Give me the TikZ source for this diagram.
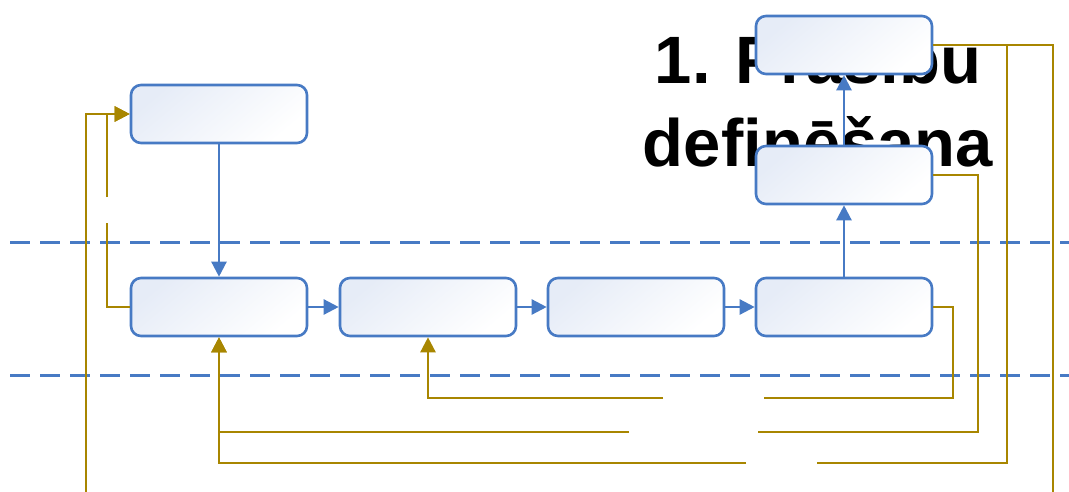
\documentclass[tikz,border=0pt]{standalone}
\usepackage{fontspec}
\setmainfont{Liberation Sans}
\usetikzlibrary{arrows.meta}
\definecolor{bblue}{RGB}{71,122,196}
\definecolor{ggold}{RGB}{168,134,0}
\definecolor{boxtop}{RGB}{230,236,247}
\tikzset{
  stagebox/.style={draw=bblue, line width=2.6pt, rounded corners=10pt,
    minimum width=176pt, minimum height=58pt, inner sep=0pt,
    top color=boxtop, bottom color=white, shading angle=40},
  barrow/.style={draw=bblue, line width=2.4pt, -{Triangle[length=15pt,width=15pt]}},
  gline/.style={draw=ggold, line width=2.5pt},
  garrow/.style={draw=ggold, line width=2.5pt, -{Triangle[length=15pt,width=15pt]}},
  lane/.style={draw=bblue, line width=3pt, dash pattern=on 20pt off 10pt, dash phase=20pt},
  titletext/.style={font=\fontsize{67}{80}\selectfont\bfseries, inner sep=0pt, anchor=base}
}
\begin{document}
\begin{tikzpicture}[x=1pt,y=-1pt]
\useasboundingbox (0,0) rectangle (1069,491);
\clip (0,0) rectangle (1069,491);
\fill[white] (0,0) rectangle (1069,491);
% title
\node[titletext] (t1) at (818,83) {1. Prasību};
\node[titletext] (t2) at (818,166) {definēšana};
% lanes
\coordinate (l1a) at (0,242); \coordinate (l1b) at (1069,242);
\coordinate (l2a) at (0,375); \coordinate (l2b) at (1069,375);
\draw[lane] (l1a) -- (l1b);
\draw[lane] (l2a) -- (l2b);
% boxes
\node[stagebox] (A) at (219,114) {};
\node[stagebox] (B1) at (219,307) {};
\node[stagebox] (B2) at (428,307) {};
\node[stagebox] (B3) at (636,307) {};
\node[stagebox] (B4) at (844,307) {};
\node[stagebox] (C1) at (844,175) {};
\node[stagebox] (C2) at (844,45) {};
% blue connectors
\draw[barrow] (A.south) -- (B1.north);
\draw[barrow] (B1.east) -- (B2.west);
\draw[barrow] (B2.east) -- (B3.west);
\draw[barrow] (B3.east) -- (B4.west);
\draw[barrow] (B4.north) -- (C1.south);
\draw[barrow] (C1.north) -- (C2.south);
% gold feedback lines
\coordinate (g1a) at (107,223);
\coordinate (g1b) at (107,197);
\draw[gline] (B1.west) -| (g1a);
\draw[garrow] (g1b) |- (A.west);
\coordinate (g5) at (86,495);
\draw[garrow] (g5) |- (A.west);
% from C2
\coordinate (g2r) at (1053,495);
\draw[gline] (C2.east) -| (g2r);
\coordinate (g3a) at (817,463);
\coordinate (g3b) at (746,463);
\draw[gline] (C2.east) -| (1007,463) -- (g3a);
\draw[garrow] (g3b) -| (B1.south);
% from C1
\coordinate (g4a) at (758,432);
\coordinate (g4b) at (629,432);
\draw[gline] (C1.east) -| (978,432) -- (g4a);
\draw[garrow] (g4b) -| (B1.south);
% from B4
\coordinate (g6a) at (764,398);
\coordinate (g6b) at (663,398);
\draw[gline] (B4.east) -| (953,398) -- (g6a);
\draw[garrow] (g6b) -| (B2.south);
\end{tikzpicture}
\end{document}
